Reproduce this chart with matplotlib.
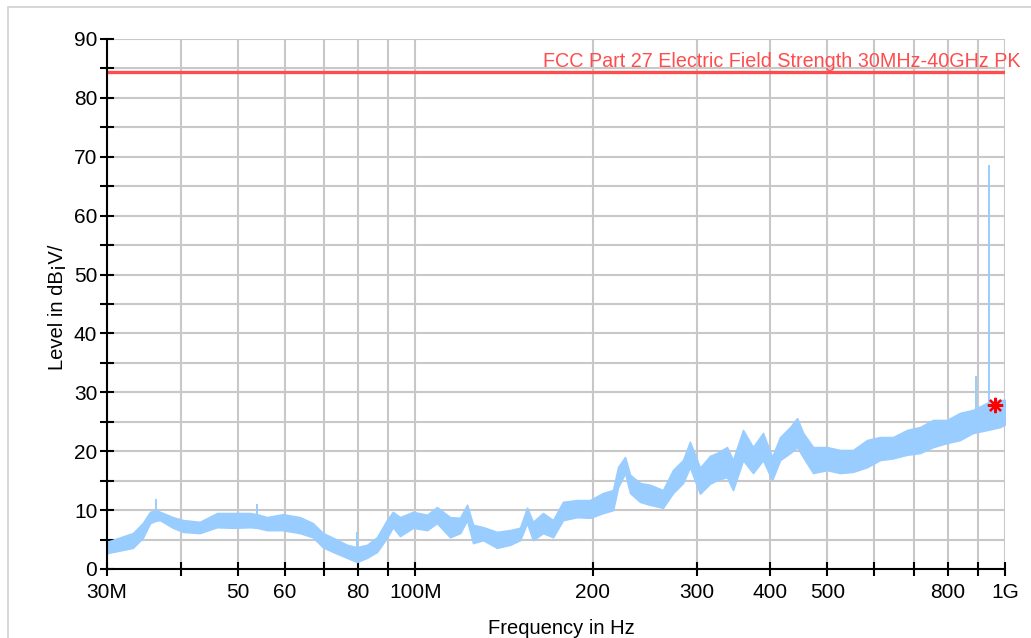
import numpy as np
import matplotlib
matplotlib.use('Agg')
import matplotlib.pyplot as plt
from matplotlib.ticker import FixedLocator, FixedFormatter, MultipleLocator
from matplotlib.patches import Rectangle
from matplotlib.transforms import blended_transform_factory

plt.rcParams['font.family'] = ['Liberation Sans', 'DejaVu Sans']

# ------------------------------------------------ data ------------------------------------------------
# frequency in MHz, lower / upper edge of the noisy trace in dBuV/m
freq = [30, 33.2, 34.5, 35.5, 36.3, 36.9, 38.8, 40.4, 43.1, 46.1, 49.1, 52.4, 53.9, 56.0,
        59.6, 63.7, 67.0, 69.7, 72.5, 76.6, 79.6, 82.8, 86.1, 89.5, 91.6, 94.2, 99.1,
        104.7, 108.8, 114.5, 119.1, 122.4, 125.3, 130.3, 137.5, 144.7, 150.5, 154.7,
        158.3, 164.6, 171.2, 178.0, 188.0, 197.8, 208.1, 216.4, 220.7, 226.8, 231.3,
        240.5, 250.0, 263.0, 273.5, 284.4, 292.2, 303.9, 316.0, 324.7, 337.7, 345.7,
        359.5, 373.8, 388.7, 402.7, 415.5, 432.1, 444.1, 454.6, 472.6, 499.0, 525.1,
        552.3, 583.6, 613.7, 645.9, 682.0, 717.6, 754.9, 797.5, 838.7, 882.2, 932.2,
        980.8, 1000]
level_lo = [2.7, 3.6, 5.3, 7.8, 8.2, 8.3, 7.0, 6.3, 6.1, 7.1, 7.0, 7.1, 7.0, 6.6,
            6.6, 6.1, 5.4, 3.7, 2.9, 1.9, 1.2, 1.9, 2.9, 5.3, 7.1, 5.6, 7.0,
            6.6, 7.8, 5.4, 6.1, 8.3, 4.4, 4.9, 3.6, 4.1, 4.9, 7.8,
            4.9, 6.1, 5.4, 8.3, 8.8, 8.7, 9.5, 10.0, 13.9, 16.3, 12.9,
            11.4, 10.9, 10.4, 12.9, 14.6, 17.3, 12.8, 14.5, 15.1, 15.6, 13.4,
            18.5, 16.3, 18.5, 15.1, 18.5, 19.7, 20.7, 19.0, 16.3, 16.8, 16.3,
            16.5, 17.3, 18.5, 18.8, 19.4, 19.7, 20.7, 21.4, 21.9, 23.1, 23.6,
            24.1, 24.5]
level_hi = [4.6, 6.1, 7.8, 9.7, 10.0, 9.7, 8.8, 8.3, 8.0, 9.5, 9.5, 9.5, 9.3, 8.8,
            9.3, 8.8, 7.8, 6.1, 5.3, 4.1, 3.7, 4.1, 5.4, 8.3, 9.7, 8.8, 9.7,
            9.2, 10.5, 8.8, 8.7, 10.9, 7.5, 7.1, 6.3, 6.6, 7.0, 10.4,
            8.0, 9.5, 8.3, 11.4, 11.7, 11.7, 12.9, 13.4, 17.3, 19.0, 16.0,
            14.6, 14.3, 13.4, 16.8, 18.5, 21.6, 17.2, 19.2, 19.7, 20.7, 18.5,
            23.6, 20.7, 23.1, 19.0, 22.4, 24.1, 25.6, 23.1, 20.7, 20.7, 20.2,
            20.2, 21.9, 22.4, 22.4, 23.6, 24.1, 25.3, 25.3, 26.5, 27.0, 28.2,
            28.7, 28.7]

# narrow spikes sticking out of the trace
spike_freq = [36.3, 53.9, 79.6, 893, 939]
spike_base = [9.0, 8.5, 3.0, 25.0, 26.0]
spike_top = [11.9, 11.0, 6.3, 32.8, 68.6]

# limit line
limit_freq = [30, 1000]
limit_level = [84.4, 84.4]
limit_name = 'FCC Part 27 Electric Field Strength 30MHz-40GHz PK'

# peak marker
peak_freq = [961]
peak_level = [27.8]

x_ticks = [30, 40, 50, 60, 70, 80, 90, 100, 200, 300, 400, 500, 600, 700, 800, 900, 1000]
x_ticklabels = ['30M', '', '50', '60', '', '80', '', '100M', '200', '300', '400', '500',
                '', '', '800', '', '1G']

# ------------------------------------------------ plot ------------------------------------------------
W, H = 1031, 638
fig = plt.figure(figsize=(W / 100, H / 100), dpi=100)
ax = fig.add_axes([107 / W, 1 - 569 / H, 898 / W, 530 / H])

# light frame around the whole picture
fig.patches.append(Rectangle((8 / W, -0.05), 1.2, 1.05 - 7 / H, transform=fig.transFigure,
                             facecolor='none', edgecolor='#cfcfcf', lw=1.2))

trace_col = '#99CCFF'
ax.fill_between(freq, level_lo, level_hi, color=trace_col, lw=1.2, edgecolor=trace_col, zorder=3)
ax.vlines(spike_freq, spike_base, spike_top, color=trace_col, lw=1.4, zorder=3)
ax.plot(limit_freq, limit_level, color='#FF4D4D', lw=2.4, zorder=4, solid_capstyle='butt')
ax.plot(peak_freq, peak_level, ls='none', marker=(8, 2, 0), ms=11, mew=1.6, color='#FF0000', zorder=5)
trans = blended_transform_factory(ax.transAxes, ax.transData)
ax.text((1021 - 107) / 898, 84.65, limit_name, color='#FF4D4D', fontsize=14.2, ha='right',
        va='bottom', transform=trans, clip_on=False)

ax.set_xscale('log')
ax.set_xlim(30, 1000)
ax.set_ylim(0, 90)

ax.xaxis.set_major_locator(FixedLocator(x_ticks))
ax.xaxis.set_major_formatter(FixedFormatter(x_ticklabels))
ax.xaxis.set_minor_locator(FixedLocator([]))
ax.yaxis.set_major_locator(MultipleLocator(10))
ax.yaxis.set_minor_locator(MultipleLocator(5))

ax.grid(True, which='both', color='#c8c8c8', lw=1.5, zorder=0)
ax.set_axisbelow(True)
for s in ['top', 'right']:
    ax.spines[s].set_visible(False)
for s in ['left', 'bottom']:
    ax.spines[s].set_linewidth(1.5)
    ax.spines[s].set_zorder(6)

ax.tick_params(which='both', direction='inout', length=10, width=1.5, colors='black', labelsize=15)
ax.tick_params(axis='x', pad=5)
ax.tick_params(axis='y', pad=2)

fig.text(57 / W, 1 - 307 / H, 'Level in dB\u00a1V/', rotation=90, ha='center', va='center', fontsize=14.5)
fig.text(561 / W, 1 - 629 / H, 'Frequency in Hz', ha='center', va='center', fontsize=14.5)

fig.savefig('out.png', dpi=100)
